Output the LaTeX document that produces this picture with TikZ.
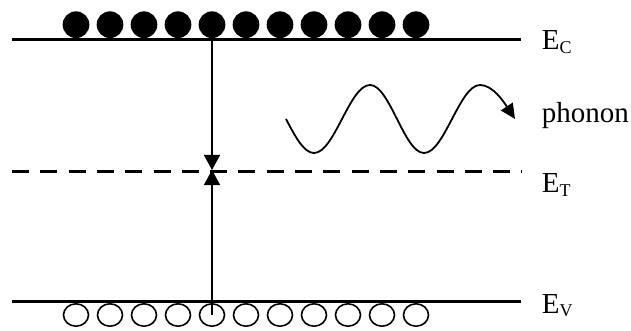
\documentclass[tikz,border=0pt]{standalone}
\usepackage{fontspec}
\setmainfont{Liberation Serif}
\usetikzlibrary{arrows.meta,shapes.geometric}

\newcommand{\lvlname}[1]{E\raisebox{-3.5pt}{\fontsize{18}{18}\selectfont #1}}

\begin{document}
\begin{tikzpicture}[x=1pt,y=-1pt,font=\fontsize{29}{34}\selectfont,
      lvl/.style={line width=3pt},
      trp/.style={line width=3.6pt,dash pattern=on 17pt off 11.3pt},
      el/.style={circle,fill=black,inner sep=0pt,minimum size=26.7pt},
      ho/.style={ellipse,draw=black,line width=1.6pt,inner sep=0pt,minimum width=25pt,minimum height=22.4pt},
      tr/.style={line width=1.5pt,-{Triangle[length=15pt,width=16pt]}},
      lb/.style={anchor=base west,inner sep=0pt}]
    \useasboundingbox (0,0) rectangle (631,331);
    % band edges and trap level
    \coordinate (CL) at (12,39.5);  \coordinate (CR) at (521,39.5);
    \coordinate (TL) at (12,171.5); \coordinate (TR) at (522,171.5);
    \coordinate (VL) at (12,301.5); \coordinate (VR) at (521,301.5);
    \draw[lvl] (CL) -- (CR);
    \draw[trp] (TL) -- (TR);
    \draw[lvl] (VL) -- (VR);
    % electrons and holes
    \foreach \i in {0,...,10} {
      \node[el] (e\i) at ({76+34*\i},24.7) {};
      \node[ho] (h\i) at ({76+34*\i},315) {};
    }
    % capture into the trap
    \coordinate (CA) at (212,39.5);
    \coordinate (T)  at (212,170);
    \draw[tr] (CA) -- (T);
    \draw[tr] (h4.center) -- (T);
    % phonon
    \draw[line width=1.8pt,-{Triangle[length=15pt,width=14pt]}]
      (286,119) sin (314,153) cos (342,119) sin (370,85) cos (397,119)
      sin (424,153) cos (452,119) sin (480,85) cos (515,119);
    \node[lb] (lC) at (541.7,50)    {\lvlname{C}};
    \node[lb] (lP) at (541.7,122.7) {phonon};
    \node[lb] (lT) at (541.7,193)   {\lvlname{T}};
    \node[lb] (lV) at (541.7,313)   {\lvlname{V}};
  \end{tikzpicture}
\end{document}
